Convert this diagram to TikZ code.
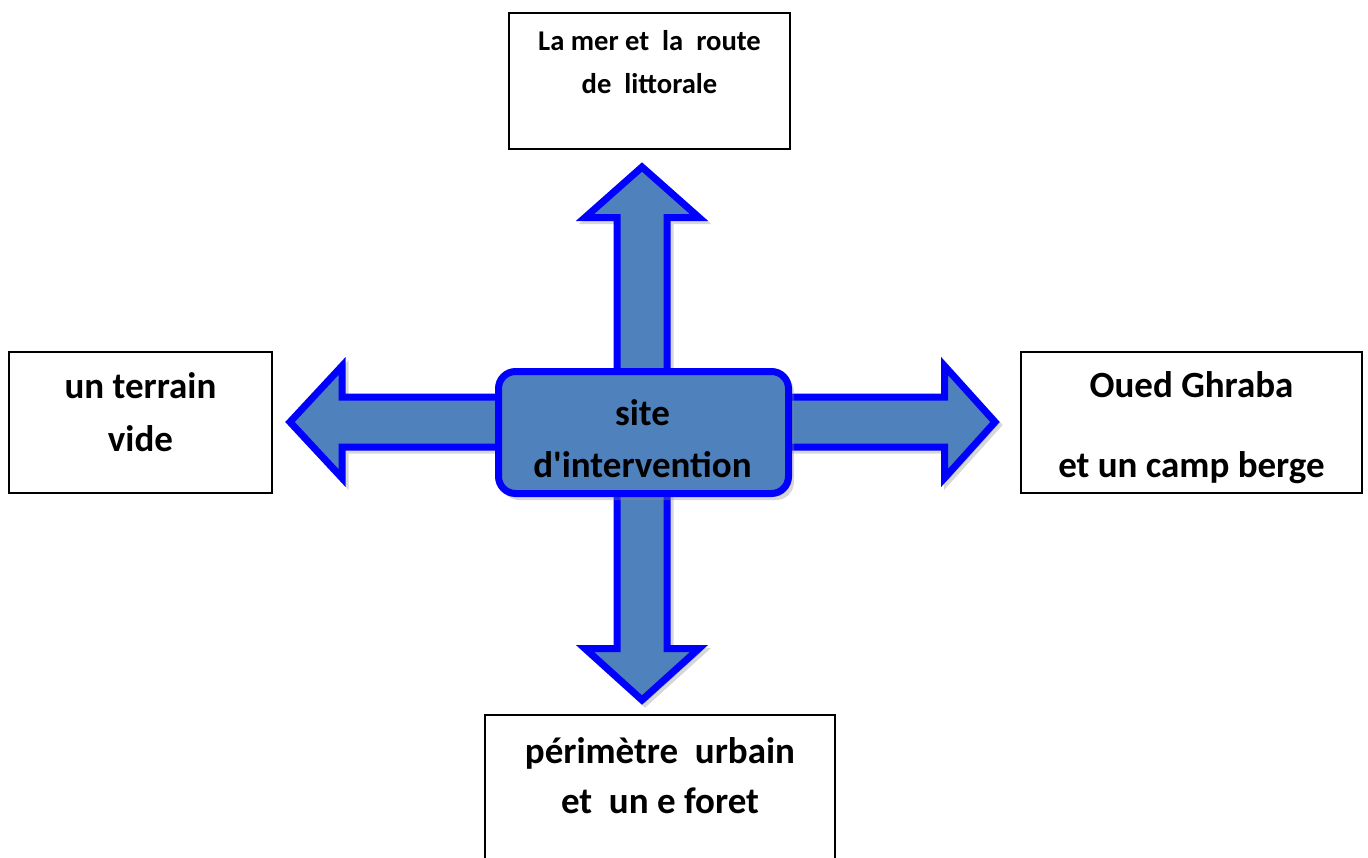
\documentclass[tikz,border=0pt]{standalone}
\usepackage{fontspec}
\newfontfamily\calibrifont{Carlito}
\definecolor{arrowfill}{HTML}{4F81BD}
\definecolor{arrowline}{HTML}{0000FF}
\definecolor{shadowgray}{HTML}{8C8C8C}
\tikzset{
  blockarrow/.style={draw=arrowline, fill=arrowfill, line width=7pt, line join=miter},
  blockshadow/.style={draw=shadowgray, fill=shadowgray, line width=7pt, line join=miter, opacity=0.35},
  framebox/.style={draw=black, line width=1.5pt, fill=white, rectangle, inner sep=0pt},
  bigtext/.style={font=\calibrifont\bfseries\fontsize{37}{44}\selectfont, inner sep=0pt, anchor=base},
  smalltext/.style={font=\calibrifont\bfseries\fontsize{28.6}{34}\selectfont, inner sep=0pt, anchor=base},
}
\begin{document}
\begin{tikzpicture}[x=1pt, y=-1pt]
\useasboundingbox (0,0) rectangle (1368,857);
\clip (0,0) rectangle (1368,857);

% boxes
\node[framebox, minimum width=281pt, minimum height=136pt] (topbox) at (649.5,81) {};
\node[framebox, minimum width=263pt, minimum height=141pt] (leftbox) at (140.5,422.5) {};
\node[framebox, minimum width=341pt, minimum height=141pt] (rightbox) at (1191.5,422.5) {};
\node[framebox, minimum width=350pt, minimum height=170pt] (bottombox) at (660,800) {};

% texts
\node[smalltext] (toptxta) at (649.5,50) {La mer et\ \ la\ \ route};
\node[smalltext] (toptxtb) at (649.5,93) {de\ \ littorale};
\node[bigtext] (lefttxta) at (140.5,398) {un terrain};
\node[bigtext] (lefttxtb) at (140.5,451) {vide};
\node[bigtext] (righttxta) at (1191.5,397) {Oued Ghraba};
\node[bigtext] (righttxtb) at (1191.5,477) {et un camp berge};
\node[bigtext] (bottomtxta) at (660,763) {périmètre\ \ urbain};
\node[bigtext] (bottomtxtb) at (660,813) {et\ \ un e foret};

% center coordinate
\coordinate (c) at (642,422);

% shadows
\begin{scope}[shift={(3,3)}]
\draw[blockshadow] (617,430) -- (617,217.5) -- (585,217.5) -- (642,167) -- (699,217.5) -- (667,217.5) -- (667,430) -- cycle;
\draw[blockshadow] (617,430) -- (617,648.5) -- (585,648.5) -- (642,700) -- (699,648.5) -- (667,648.5) -- (667,430) -- cycle;
\draw[blockshadow] (640,397) -- (342,397) -- (342,366) -- (290,422) -- (342,478) -- (342,447) -- (640,447) -- cycle;
\draw[blockshadow] (640,397) -- (944.5,397) -- (944.5,366) -- (995,422) -- (944.5,478) -- (944.5,447) -- (640,447) -- cycle;
\end{scope}

% arrows
\draw[blockarrow] (617,430) -- (617,217.5) -- (585,217.5) -- (642,167) -- (699,217.5) -- (667,217.5) -- (667,430) -- cycle;
\draw[blockarrow] (617,430) -- (617,648.5) -- (585,648.5) -- (642,700) -- (699,648.5) -- (667,648.5) -- (667,430) -- cycle;
\draw[blockarrow] (640,397) -- (342,397) -- (342,366) -- (290,422) -- (342,478) -- (342,447) -- (640,447) -- cycle;
\draw[blockarrow] (640,397) -- (944.5,397) -- (944.5,366) -- (995,422) -- (944.5,478) -- (944.5,447) -- (640,447) -- cycle;

% center box
\fill[shadowgray, opacity=0.35, rounded corners=18pt] (501,374) rectangle (794,500);
\node[draw=arrowline, fill=arrowfill, line width=7pt, rounded corners=17pt, minimum width=290pt, minimum height=122pt, inner sep=0pt] (center) at (643.5,432.5) {};
\node[bigtext] (centertxta) at (642.5,425) {site};
\node[bigtext] (centertxtb) at (642.5,477) {d'intervention};
\end{tikzpicture}
\end{document}
